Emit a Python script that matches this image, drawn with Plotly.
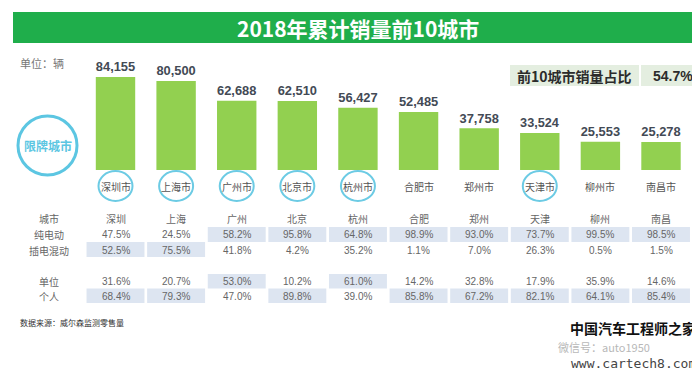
import plotly.graph_objects as go

# ---------------- data ----------------
cities = ["深圳市", "上海市", "广州市", "北京市", "杭州市", "合肥市", "郑州市", "天津市", "柳州市", "南昌市"]
short_names = ["深圳", "上海", "广州", "北京", "杭州", "合肥", "郑州", "天津", "柳州", "南昌"]
sales = [84155, 80500, 62688, 62510, 56427, 52485, 37758, 33524, 25553, 25278]
bev_share = [47.5, 24.5, 58.2, 95.8, 64.8, 98.9, 93.0, 73.7, 99.5, 98.5]
phev_share = [52.5, 75.5, 41.8, 4.2, 35.2, 1.1, 7.0, 26.3, 0.5, 1.5]
org_share = [31.6, 20.7, 53.0, 10.2, 61.0, 14.2, 32.8, 17.9, 35.9, 14.6]
pers_share = [68.4, 79.3, 47.0, 89.8, 39.0, 85.8, 67.2, 82.1, 64.1, 85.4]
restricted = [True, True, True, True, True, False, False, True, False, False]
row_labels = ["城市", "纯电动", "插电混动", "单位", "个人"]
title_text = "2018年累计销量前10城市"
unit_text = "单位：辆"
share_label = "前10城市销量占比"
share_value = "54.7%"
source_text = "数据来源：威尔森监测零售量"
restricted_label = "限牌城市"

W, H = 700, 370
FONT = "Noto Sans CJK SC"


def px(p):
    return p / W


def py(p):
    return 1 - p / H


idx = list(range(len(cities)))

fig = go.Figure()
fig.add_trace(go.Bar(
    x=idx, y=sales, width=0.65,
    marker=dict(color="#92d050", line=dict(width=0)),
    texttemplate="%{y:,}", textposition="outside",
    textfont=dict(family="Liberation Sans", size=15, color="#434a55", weight="bold"),
    cliponaxis=False, hoverinfo="skip",
))

shapes = []
ann = []

# title bar
shapes.append(dict(type="rect", xref="paper", yref="paper",
                   x0=px(5), x1=px(695), y0=py(35), y1=py(4),
                   fillcolor="#1fae4b", line=dict(width=0), layer="below"))
ann.append(dict(text="<b>" + title_text + "</b>", x=0.5, y=py(19.5), xref="paper", yref="paper",
                showarrow=False, font=dict(family=FONT, size=21, color="white"),
                xanchor="center", yanchor="middle"))

# unit
ann.append(dict(text=unit_text, x=px(10), y=py(55), xref="paper", yref="paper", showarrow=False,
                font=dict(family=FONT, size=11, color="#777777"), xanchor="left", yanchor="middle"))

# share box
shapes.append(dict(type="rect", xref="paper", yref="paper", x0=px(502), x1=px(631), y0=py(78), y1=py(57),
                   fillcolor="#e4eee0", line=dict(width=0), layer="below"))
shapes.append(dict(type="rect", xref="paper", yref="paper", x0=px(633), x1=px(697), y0=py(78), y1=py(57),
                   fillcolor="#e4eee0", line=dict(width=0), layer="below"))
ann.append(dict(text="<b>" + share_label + "</b>", x=px(566), y=py(68), xref="paper", yref="paper",
                showarrow=False, font=dict(family=FONT, size=14, color="#2b2b2b"),
                xanchor="center", yanchor="middle"))
ann.append(dict(text="<b>" + share_value + "</b>", x=px(665), y=py(68), xref="paper", yref="paper",
                showarrow=False, font=dict(family="Liberation Sans", size=14, color="#2b2b2b"),
                xanchor="center", yanchor="middle"))

# big restricted circle
shapes.append(dict(type="circle", xref="paper", yref="paper", x0=px(10), x1=px(69), y0=py(167), y1=py(108),
                   line=dict(color="#5cc6e2", width=3), fillcolor="rgba(0,0,0,0)"))
ann.append(dict(text="<b>" + restricted_label + "</b>", x=px(39.5), y=py(137), xref="paper", yref="paper",
                showarrow=False, font=dict(family=FONT, size=12, color="#5cc6e2"),
                xanchor="center", yanchor="middle"))

# city labels & circles
for i in idx:
    ann.append(dict(text=cities[i], x=i, y=py(178), xref="x", yref="paper", showarrow=False,
                    font=dict(family=FONT, size=10, color="#555555"), xanchor="center", yanchor="middle"))
    if restricted[i]:
        shapes.append(dict(type="circle", xref="x", yref="paper", xsizemode="pixel", ysizemode="pixel",
                           xanchor=i, yanchor=py(178), x0=-17, x1=17, y0=-15, y1=15,
                           line=dict(color="#6ccbe4", width=2), fillcolor="rgba(0,0,0,0)"))

# table
row_y = [211, 227, 242, 273, 288]
cell_bounds = {1: (219, 234), 2: (234, 249), 3: (266, 280.5), 4: (280.5, 295)}
for r, lab in enumerate(row_labels):
    ann.append(dict(text=lab, x=px(41), y=py(row_y[r]), xref="paper", yref="paper", showarrow=False,
                    font=dict(family=FONT, size=10, color="#666666"), xanchor="center", yanchor="middle"))

table_rows = {1: bev_share, 2: phev_share, 3: org_share, 4: pers_share}
for i in idx:
    ann.append(dict(text=short_names[i], x=i, y=py(row_y[0]), xref="x", yref="paper", showarrow=False,
                    font=dict(family=FONT, size=10, color="#666666"), xanchor="center", yanchor="middle"))
    for r, vals in table_rows.items():
        partner = table_rows[r + 1] if r in (1, 3) else table_rows[r - 1]
        if vals[i] > partner[i]:
            y0, y1 = cell_bounds[r]
            shapes.append(dict(type="rect", xref="x", yref="paper", x0=i - 0.478, x1=i + 0.478,
                               y0=py(y1), y1=py(y0), fillcolor="#dde5f1", line=dict(width=0), layer="below"))
        ann.append(dict(text=f"{vals[i]:.1f}%", x=i, y=py(row_y[r]), xref="x", yref="paper", showarrow=False,
                        font=dict(family="Liberation Sans", size=10, color="#666666"),
                        xanchor="center", yanchor="middle"))

# source
ann.append(dict(text=source_text, x=px(10), y=py(314), xref="paper", yref="paper", showarrow=False,
                font=dict(family=FONT, size=8, color="#333333"), xanchor="left", yanchor="middle"))

# watermark
ann.append(dict(text="<b>中国汽车工程师之家</b>", x=px(690), y=py(320), xref="paper", yref="paper", showarrow=False,
                font=dict(family=FONT, size=14, color="#111111"), xanchor="right", yanchor="middle"))
ann.append(dict(text="微信号：auto1950", x=px(548), y=py(339), xref="paper", yref="paper", showarrow=False,
                font=dict(family=FONT, size=11, color="#b8b8b8"), xanchor="left", yanchor="middle"))
ann.append(dict(text="www.cartech8.com", x=px(690), y=py(355), xref="paper", yref="paper", showarrow=False,
                font=dict(family="DejaVu Sans Mono", size=13, color="#444444"), xanchor="right", yanchor="middle"))

# x range so that bar 0 sits at 107.5 px and bar 9 at 653 px
unit = (653 - 107.5) / 9
x0 = -107.5 / unit
x1 = x0 + W / unit
scale = 93 / 84155  # px per unit
fig.update_layout(
    width=W, height=H,
    margin=dict(l=0, r=0, t=0, b=0),
    paper_bgcolor="white", plot_bgcolor="white",
    showlegend=False,
    xaxis=dict(range=[x0, x1], visible=False, fixedrange=True),
    yaxis=dict(range=[0, 162 / scale], domain=[1 - 162 / H, 1], visible=False, fixedrange=True),
    shapes=shapes, annotations=ann,
    font=dict(family=FONT),
)
fig.write_html("out.html")
